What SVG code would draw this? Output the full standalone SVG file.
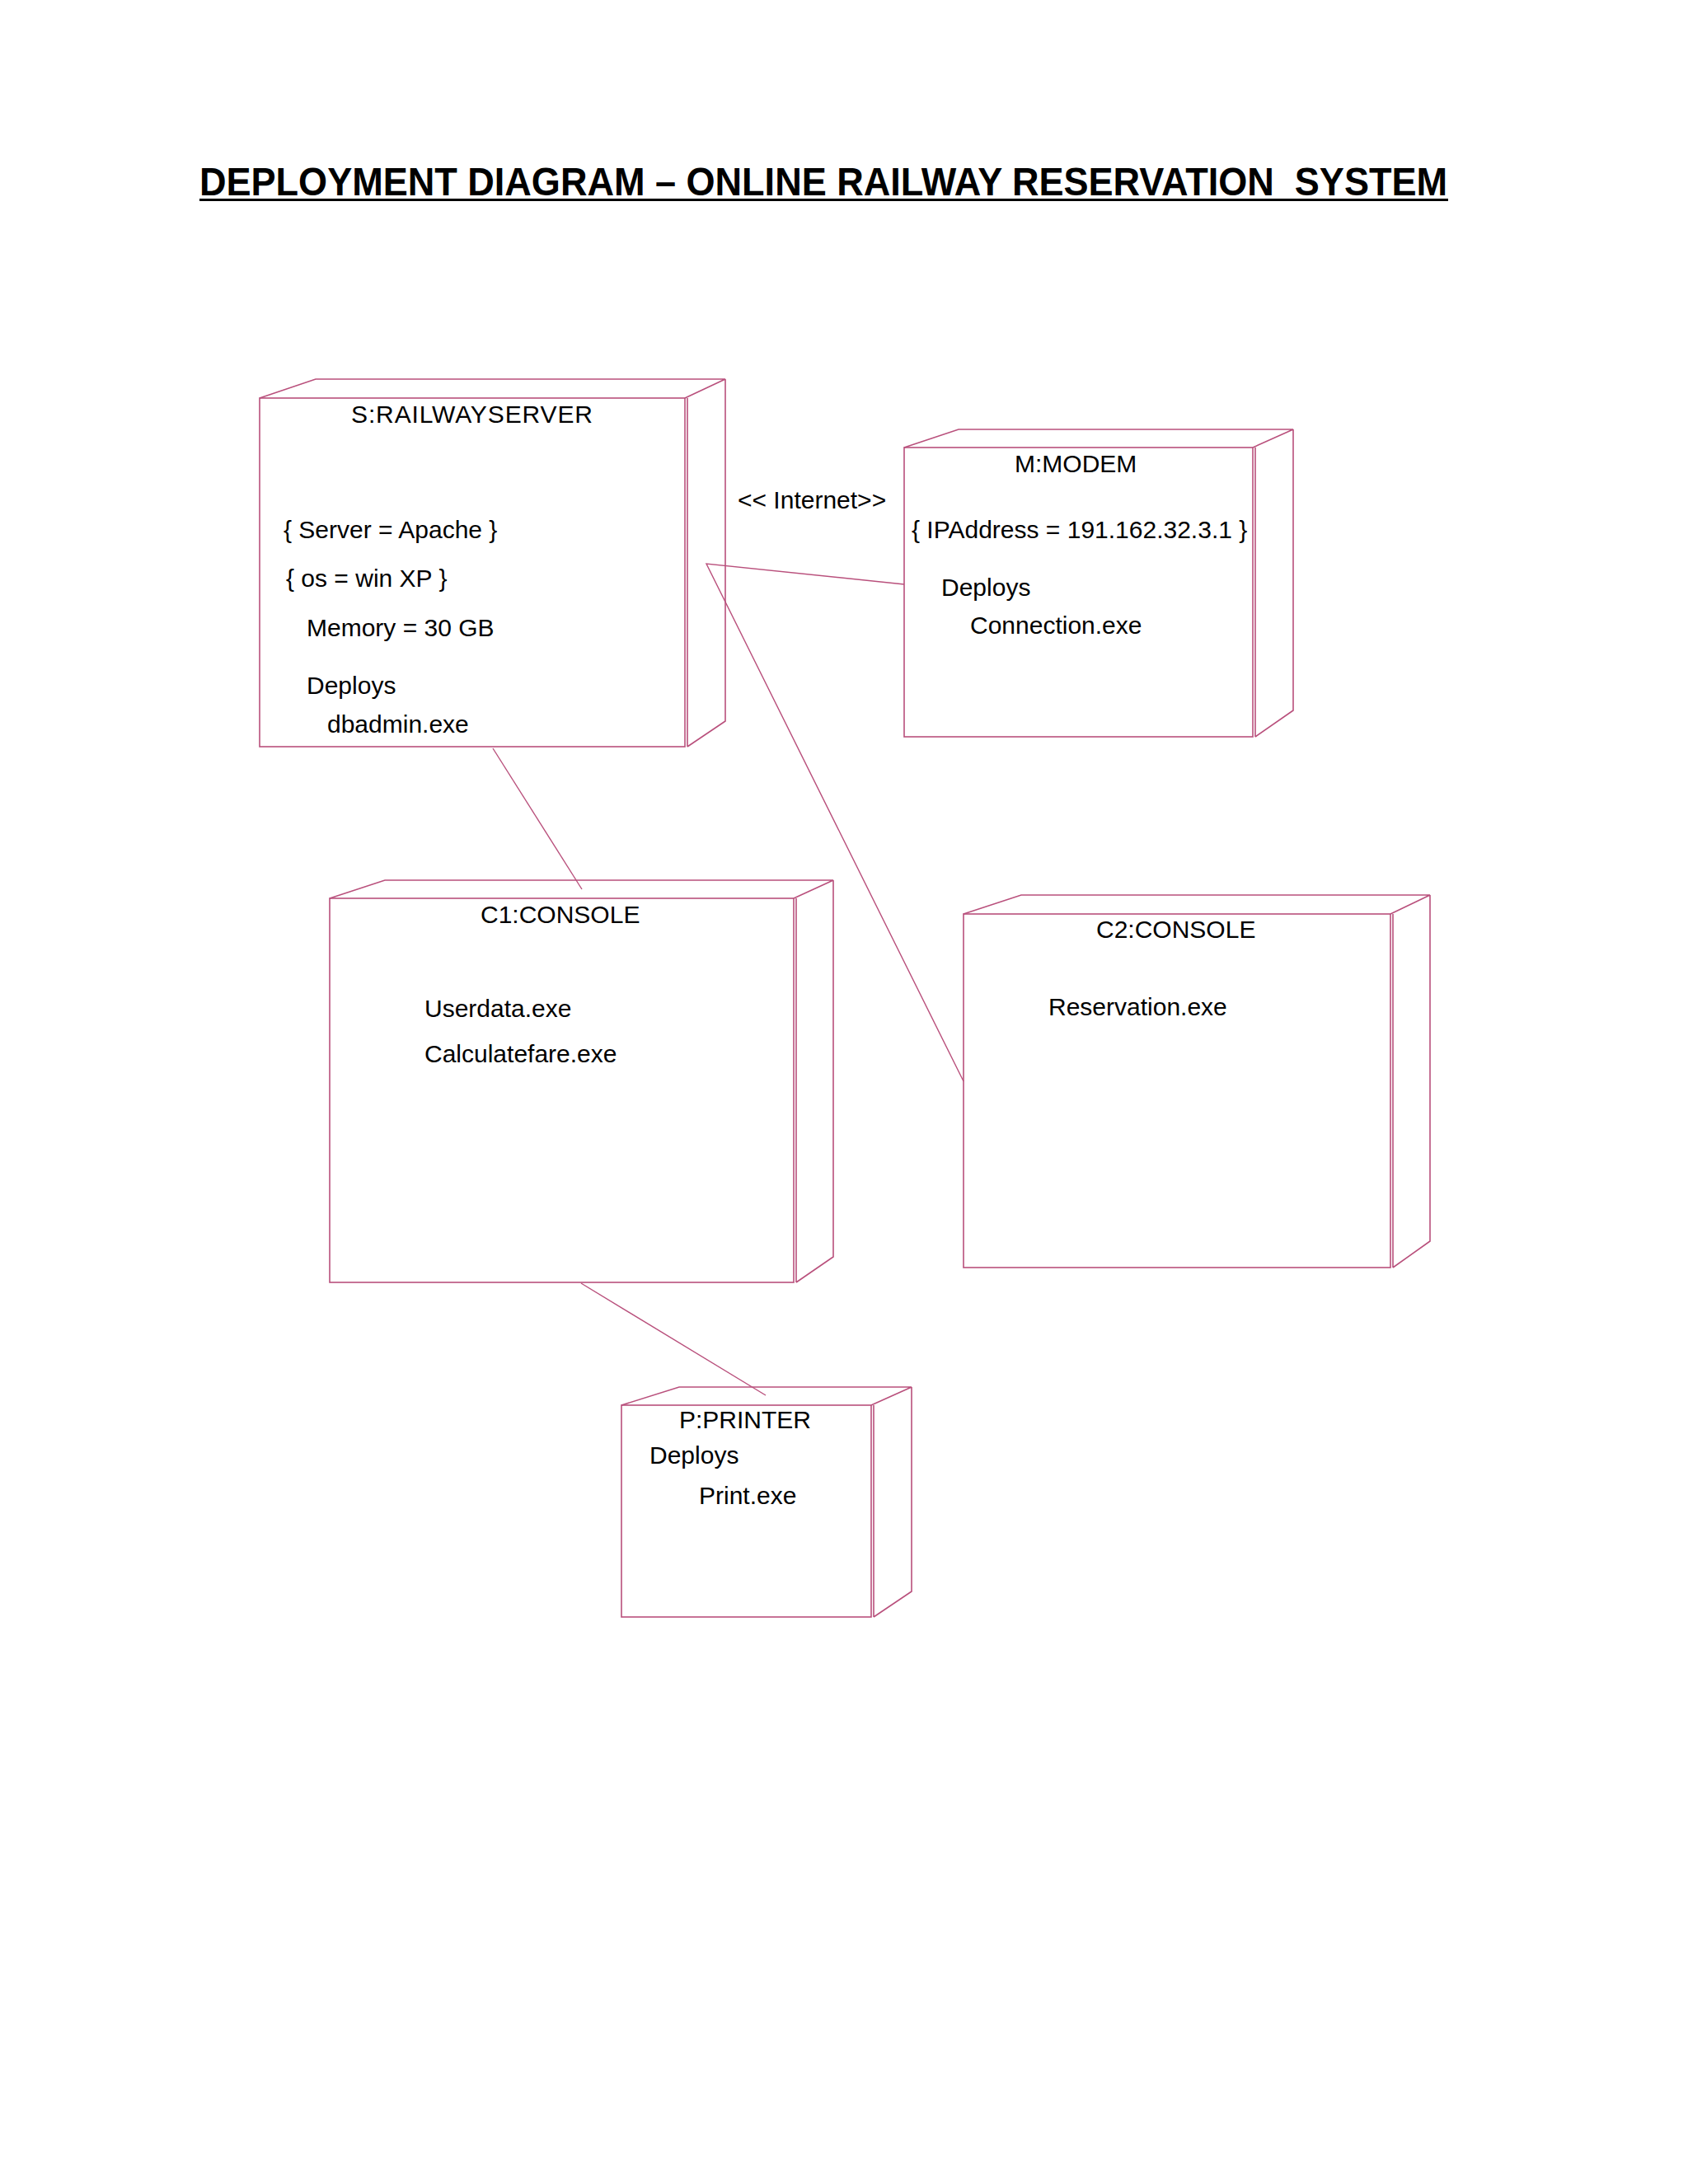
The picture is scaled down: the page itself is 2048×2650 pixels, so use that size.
<svg xmlns="http://www.w3.org/2000/svg" width="2048" height="2650" viewBox="0 0 2048 2650">
<style>
.n{fill:none;stroke:#b9507c;stroke-width:1.6}
.c{fill:none;stroke:#b9507c;stroke-width:1.4}
.t{font-family:"Liberation Sans",Arial,sans-serif;font-size:30px;fill:#000}
.h{font-family:"Liberation Sans",Arial,sans-serif;font-size:48px;font-weight:bold;fill:#000}
</style>
<rect x="0" y="0" width="2048" height="2650" fill="#ffffff"/>
<g id="title">
<text class="h" x="242" y="237" textLength="1514" lengthAdjust="spacingAndGlyphs">DEPLOYMENT DIAGRAM – ONLINE RAILWAY RESERVATION&#160; SYSTEM</text>
<line x1="242" y1="242.5" x2="1757" y2="242.5" stroke="#000" stroke-width="3"/>
</g>
<g id="connectors">
<line class="c" x1="598" y1="908" x2="706" y2="1079"/>
<polyline class="c" points="1097,709 857,684 1169,1312"/>
<line class="c" x1="705" y1="1557" x2="929" y2="1693"/>
<text class="t" x="895" y="617">&lt;&lt; Internet&gt;&gt;</text>
</g>
<g id="server">
<rect class="n" x="315" y="483" width="516" height="423"/>
<path class="n" d="M315,483 L383,460 L880,460 L831,483 M880,460 L880,875 L834,906 M834,483 L834,906"/>
<text class="t" x="426" y="513" textLength="293">S:RAILWAYSERVER</text>
<text class="t" x="344" y="653">{ Server = Apache }</text>
<text class="t" x="347" y="712">{ os = win XP }</text>
<text class="t" x="372" y="772">Memory = 30 GB</text>
<text class="t" x="372" y="842">Deploys</text>
<text class="t" x="397" y="889">dbadmin.exe</text>
</g>
<g id="modem">
<rect class="n" x="1097" y="543" width="423" height="351"/>
<path class="n" d="M1097,543 L1163,521 L1569,521 L1520,543 M1569,521 L1569,862 L1523,894 M1523,543 L1523,894"/>
<text class="t" x="1231" y="573">M:MODEM</text>
<text class="t" x="1106" y="653">{ IPAddress = 191.162.32.3.1 }</text>
<text class="t" x="1142" y="723">Deploys</text>
<text class="t" x="1177" y="769">Connection.exe</text>
</g>
<g id="c1">
<rect class="n" x="400" y="1090" width="563" height="466"/>
<path class="n" d="M400,1090 L467,1068 L1011,1068 L963,1090 M1011,1068 L1011,1525 L966,1556 M966,1090 L966,1556"/>
<text class="t" x="583" y="1120">C1:CONSOLE</text>
<text class="t" x="515" y="1234">Userdata.exe</text>
<text class="t" x="515" y="1289">Calculatefare.exe</text>
</g>
<g id="c2">
<rect class="n" x="1169" y="1109" width="518" height="429"/>
<path class="n" d="M1169,1109 L1239,1086 L1735,1086 L1687,1109 M1735,1086 L1735,1506 L1690,1538 M1690,1109 L1690,1538"/>
<text class="t" x="1330" y="1138">C2:CONSOLE</text>
<text class="t" x="1272" y="1232">Reservation.exe</text>
</g>
<g id="printer">
<rect class="n" x="754" y="1705" width="303" height="257"/>
<path class="n" d="M754,1705 L824,1683 L1106,1683 L1057,1705 M1106,1683 L1106,1931 L1060,1962 M1060,1705 L1060,1962"/>
<text class="t" x="824" y="1733">P:PRINTER</text>
<text class="t" x="788" y="1776">Deploys</text>
<text class="t" x="848" y="1825">Print.exe</text>
</g>
</svg>
